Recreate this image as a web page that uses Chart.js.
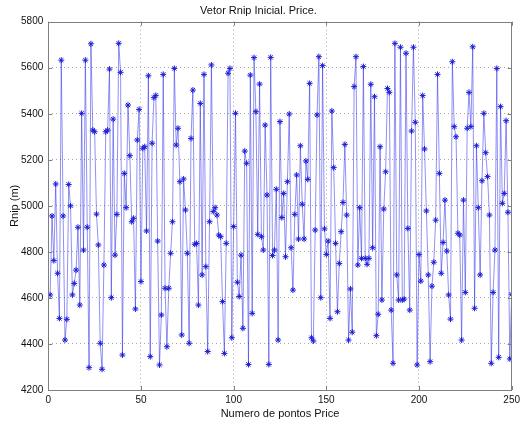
<!DOCTYPE html>
<html>
<head>
<meta charset="utf-8">
<title>Vetor Rnip Inicial. Price.</title>
<script src="https://cdn.jsdelivr.net/npm/chart.js@4/dist/chart.umd.min.js"></script>
<style>
  html, body { margin: 0; padding: 0; background: #ffffff; }
  #wrap { width: 524px; height: 425px; }
</style>
</head>
<body>
<div id="wrap"><canvas id="chart" width="524" height="425"></canvas></div>
<script>
// Rnip (m) for each Price sample, in sample order (samples 1..250)
const rnipValues = [
  4613, 4956, 4762, 5095, 4707, 4511, 5633, 4956, 4417, 4507,
  5093, 5000, 4613, 4663, 4721, 4907, 4569, 5402, 4808, 5633,
  4907, 4297, 5704, 5329, 5322, 4964, 4830, 4403, 4290, 4743,
  5322, 5329, 5594, 4601, 5377, 4786, 4963, 5706, 5580, 4352,
  5141, 4992, 5438, 5218, 4931, 4946, 4552, 5286, 5419, 4671,
  5250, 5257, 4891, 5565, 4345, 5272, 5470, 5480, 4847, 4309,
  4526, 5571, 4642, 4388, 4642, 4794, 4931, 5597, 5264, 5337,
  5105, 4439, 5117, 4982, 4794, 4403, 5293, 5503, 4833, 4837,
  4569, 5445, 4700, 5571, 4736, 4367, 4931, 5612, 4975, 4992,
  4960, 4873, 4866, 4584, 4359, 4837, 5576, 5597, 4427, 4910,
  5402, 4668, 4606, 4786, 4468, 5238, 5185, 4311, 5568, 4533,
  5644, 5409, 4876, 5529, 4866, 4808, 5351, 5047, 4311, 5645,
  4784, 4808, 5072, 4417, 5366, 4949, 5054, 4779, 5105, 5399,
  4818, 4634, 4963, 5134, 4856, 5261, 5007, 4856, 5195, 5115,
  5532, 4427, 4413, 4895, 5395, 5648, 4601, 5609, 4900, 4789,
  4847, 4511, 5412, 5166, 4837, 4540, 4750, 4888, 5015, 5267,
  4960, 4417, 4639, 4451, 5518, 5648, 4743, 4992, 4772, 5605,
  4772, 4746, 4772, 5528, 4818, 5474, 4436, 4529, 5257, 4591,
  4986, 5148, 5510, 5493, 4547, 4316, 5706, 4700, 4591, 5689,
  4591, 4595, 5663, 4902, 4547, 5325, 5689, 5363, 4309, 4789,
  4673, 5479, 5247, 4978, 4700, 4323, 4651, 4755, 4938, 5571,
  5141, 4707, 4841, 5025, 4804, 4613, 4508, 5626, 5344, 5300,
  4881, 4873, 4417, 5025, 4624, 5337, 5493, 5344, 5691, 4555,
  5261, 4992, 4700, 5109, 5402, 5231, 5127, 4960, 4316, 4624,
  4808, 5597, 4342, 5431, 5011, 5054, 5370, 4972, 4335, 4616
];

// Axis ticks
const xTicks = [0, 50, 100, 150, 200, 250];
const yTicks = [4200, 4400, 4600, 4800, 5000, 5200, 5400, 5600, 5800];

const titleText = 'Vetor Rnip Inicial. Price.';
const xTitle = 'Numero de pontos Price';
const yTitle = 'Rnip (m)';

const points = rnipValues.map((v, i) => ({ x: i + 1, y: v }));

const FONT = '"Liberation Sans", Arial, Helvetica, sans-serif';
const AXIS_GREY = '#7f7f7f';

// Box around the plot and short inward tick marks on all four sides
const boxAndTicks = {
  id: 'boxAndTicks',
  afterDatasetsDraw(chart) {
    const { ctx, chartArea: a, scales } = chart;
    ctx.save();
    ctx.strokeStyle = AXIS_GREY;
    ctx.lineWidth = 1;
    ctx.beginPath();
    const len = 4;
    xTicks.forEach(t => {
      const px = Math.round(scales.x.getPixelForValue(t)) + 0.5;
      ctx.moveTo(px, a.bottom); ctx.lineTo(px, a.bottom - len);
      ctx.moveTo(px, a.top); ctx.lineTo(px, a.top + len);
    });
    yTicks.forEach(t => {
      const py = Math.round(scales.y.getPixelForValue(t)) + 0.5;
      ctx.moveTo(a.left, py); ctx.lineTo(a.left + len, py);
      ctx.moveTo(a.right, py); ctx.lineTo(a.right - len, py);
    });
    ctx.stroke();
    ctx.strokeRect(Math.round(a.left) + 0.5, Math.round(a.top) + 0.5,
                   Math.round(a.right - a.left), Math.round(a.bottom - a.top));
    ctx.restore();
  }
};

const plainNumber = v => String(v);

new Chart(document.getElementById('chart'), {
  type: 'line',
  data: {
    datasets: [{
      data: points,
      borderColor: 'rgba(30, 30, 235, 0.55)',
      borderWidth: 0.9,
      tension: 0,
      pointStyle: 'star',
      pointRadius: 3,
      pointBorderColor: '#1c1cd8',
      pointBorderWidth: 1,
      pointBackgroundColor: '#1c1cd8',
      pointHoverRadius: 3
    }]
  },
  options: {
    responsive: false,
    animation: false,
    devicePixelRatio: 1,
    layout: { padding: { left: 0, right: 7, top: 0, bottom: 0 } },
    plugins: {
      legend: { display: false },
      tooltip: { enabled: false },
      title: {
        display: true,
        text: titleText,
        color: '#111111',
        font: { family: FONT, size: 11, weight: 'normal' },
        padding: { top: 4, bottom: 4.5 }
      }
    },
    scales: {
      x: {
        type: 'linear',
        min: 0,
        max: 250,
        afterBuildTicks(scale) { scale.ticks = xTicks.map(v => ({ value: v })); },
        afterFit(scale) { scale.height = 35; },
        ticks: {
          color: '#111111',
          font: { family: FONT, size: 10 },
          padding: 4,
          maxRotation: 0,
          callback: plainNumber
        },
        grid: {
          drawTicks: false,
          color: ctx => (ctx.tick && (ctx.tick.value === 0 || ctx.tick.value === 250)) ? 'rgba(0,0,0,0)' : '#a8a8a8',
          lineWidth: 1
        },
        border: { display: false, dash: [1, 3] },
        title: {
          display: true,
          text: xTitle,
          color: '#111111',
          font: { family: FONT, size: 11 },
          padding: { top: 0, bottom: 4.5 }
        }
      },
      y: {
        type: 'linear',
        min: 4200,
        max: 5800,
        afterBuildTicks(scale) { scale.ticks = yTicks.map(v => ({ value: v })); },
        afterFit(scale) { scale.width = 48.3; },
        ticks: {
          color: '#111111',
          font: { family: FONT, size: 10 },
          padding: 5,
          callback: plainNumber
        },
        grid: {
          drawTicks: false,
          color: ctx => (ctx.tick && (ctx.tick.value === 4200 || ctx.tick.value === 5800)) ? 'rgba(0,0,0,0)' : '#a8a8a8',
          lineWidth: 1
        },
        border: { display: false, dash: [1, 3] },
        title: {
          display: true,
          text: yTitle,
          color: '#111111',
          font: { family: FONT, size: 11 },
          padding: { top: 8.4, bottom: 0 }
        }
      }
    }
  },
  plugins: [boxAndTicks]
});
</script>
</body>
</html>
